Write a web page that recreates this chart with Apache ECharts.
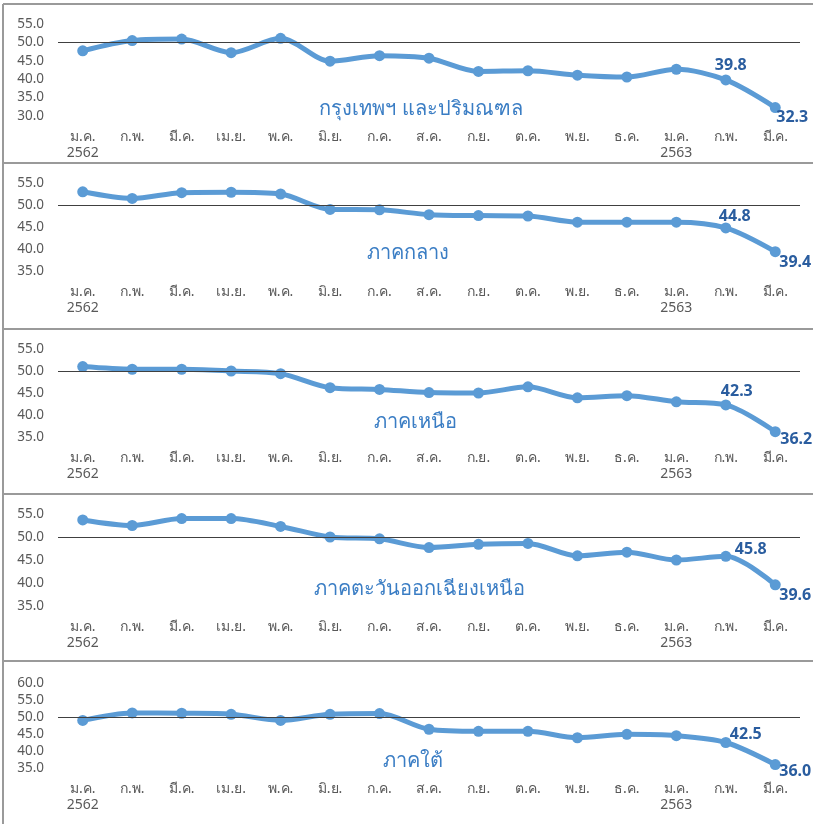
<!DOCTYPE html>
<html>
<head>
<meta charset="utf-8">
<script src="https://cdn.jsdelivr.net/npm/echarts@6/dist/echarts.min.js"></script>
<style>
html,body{margin:0;padding:0;background:#fff;}
#c{width:813px;height:824px;}
</style>
</head>
<body>
<div id="c"></div>
<script>
const months = ['ม.ค.\n2562','ก.พ.','มี.ค.','เม.ย.','พ.ค.','มิ.ย.','ก.ค.','ส.ค.','ก.ย.','ต.ค.','พ.ย.','ธ.ค.','ม.ค.\n2563','ก.พ.','มี.ค.'];
const regionNames = ['กรุงเทพฯ และปริมณฑล','ภาคกลาง','ภาคเหนือ','ภาคตะวันออกเฉียงเหนือ','ภาคใต้'];
const bangkok   = [47.7,50.5,50.9,47.2,51.1,44.9,46.4,45.7,42.1,42.3,41.1,40.6,42.7,39.8,32.3];
const central   = [53.0,51.5,52.8,52.9,52.5,49.0,48.9,47.8,47.6,47.5,46.1,46.1,46.1,44.8,39.4];
const northern  = [51.0,50.4,50.4,50.0,49.4,46.2,45.8,45.1,45.0,46.4,43.9,44.4,43.0,42.3,36.2];
const northeast = [53.7,52.5,54.0,54.0,52.3,50.0,49.6,47.7,48.4,48.6,45.9,46.7,45.0,45.8,39.6];
const southern  = [49.0,51.2,51.1,50.8,49.0,50.8,51.0,46.4,45.8,45.8,43.9,44.9,44.5,42.5,36.0];
const yMin = [30,35,35,35,35];
const yMax = [55,55,55,55,60];
const seriesData = [bangkok, central, northern, northeast, southern];

// layout (pixels)
const grids = [
  {top:24, height:92},
  {top:183, height:88},
  {top:349, height:88},
  {top:514, height:92},
  {top:683, height:85}
];
const labelOffsets = [
  [[5,-14],[17,10]],
  [[9,-11],[20,11]],
  [[11,-13],[21,8]],
  [[25,-7],[20,11]],
  [[20,-8],[20,7]]
];
const titlePos = [[416,108],[403,252],[410,421],[414,588],[408,760]];
const borderYs = [4,163,329,494,661];

const FONT = "'Noto Sans','DejaVu Sans',sans-serif";
const lineColor = '#5B9BD5';
const labelColor = '#2A5D9F';

const option = {
  animation:false,
  backgroundColor:'#fff',
  title: regionNames.map((n,i)=>({
    text:n, left:titlePos[i][0], top:titlePos[i][1]-14, textAlign:'center',
    textStyle:{color:'#3A7DC4', fontSize:20, fontWeight:'normal', fontFamily:FONT}
  })),
  grid: grids.map(g=>({left:58, right:13, top:g.top, height:g.height})),
  xAxis: grids.map((g,i)=>({
    type:'category', gridIndex:i, data:months, boundaryGap:true,
    axisLine:{show:false}, axisTick:{show:false}, splitLine:{show:false},
    axisLabel:{color:'#595959', fontSize:14, fontFamily:FONT, margin:13, lineHeight:16, interval:0}
  })),
  yAxis: grids.map((g,i)=>({
    type:'value', gridIndex:i, min:yMin[i], max:yMax[i], interval:5,
    axisLine:{show:false}, axisTick:{show:false}, splitLine:{show:false},
    axisLabel:{color:'#595959', fontSize:13.5, fontFamily:FONT, margin:14, formatter:v=>v.toFixed(1)}
  })),
  series: seriesData.map((d,i)=>({
    type:'line', xAxisIndex:i, yAxisIndex:i, smooth:0.3,
    symbol:'circle', symbolSize:11,
    lineStyle:{color:lineColor, width:5},
    itemStyle:{color:lineColor},
    data: d.map((v,j)=>{
      if (j>=d.length-2){
        const off = labelOffsets[i][j-(d.length-2)];
        return {value:v, label:{show:true, position:'inside', offset:off, formatter:p=>p.value.toFixed(1),
          color:labelColor, fontSize:16, fontWeight:'bold', fontFamily:FONT}};
      }
      return v;
    }),
    markLine:{silent:true, symbol:'none', label:{show:false},
      lineStyle:{color:'#404040', width:1, type:'solid'}, data:[{yAxis:50}]},
    z:3
  })),
  graphic: borderYs.map(y=>({type:'line', shape:{x1:3,y1:y,x2:813,y2:y}, style:{stroke:'#9A9A9A', lineWidth:2}}))
    .concat([{type:'line', shape:{x1:3,y1:4,x2:3,y2:824}, style:{stroke:'#9A9A9A', lineWidth:2}}])
};
const chart = echarts.init(document.getElementById('c'));
chart.setOption(option);
</script>
</body>
</html>
